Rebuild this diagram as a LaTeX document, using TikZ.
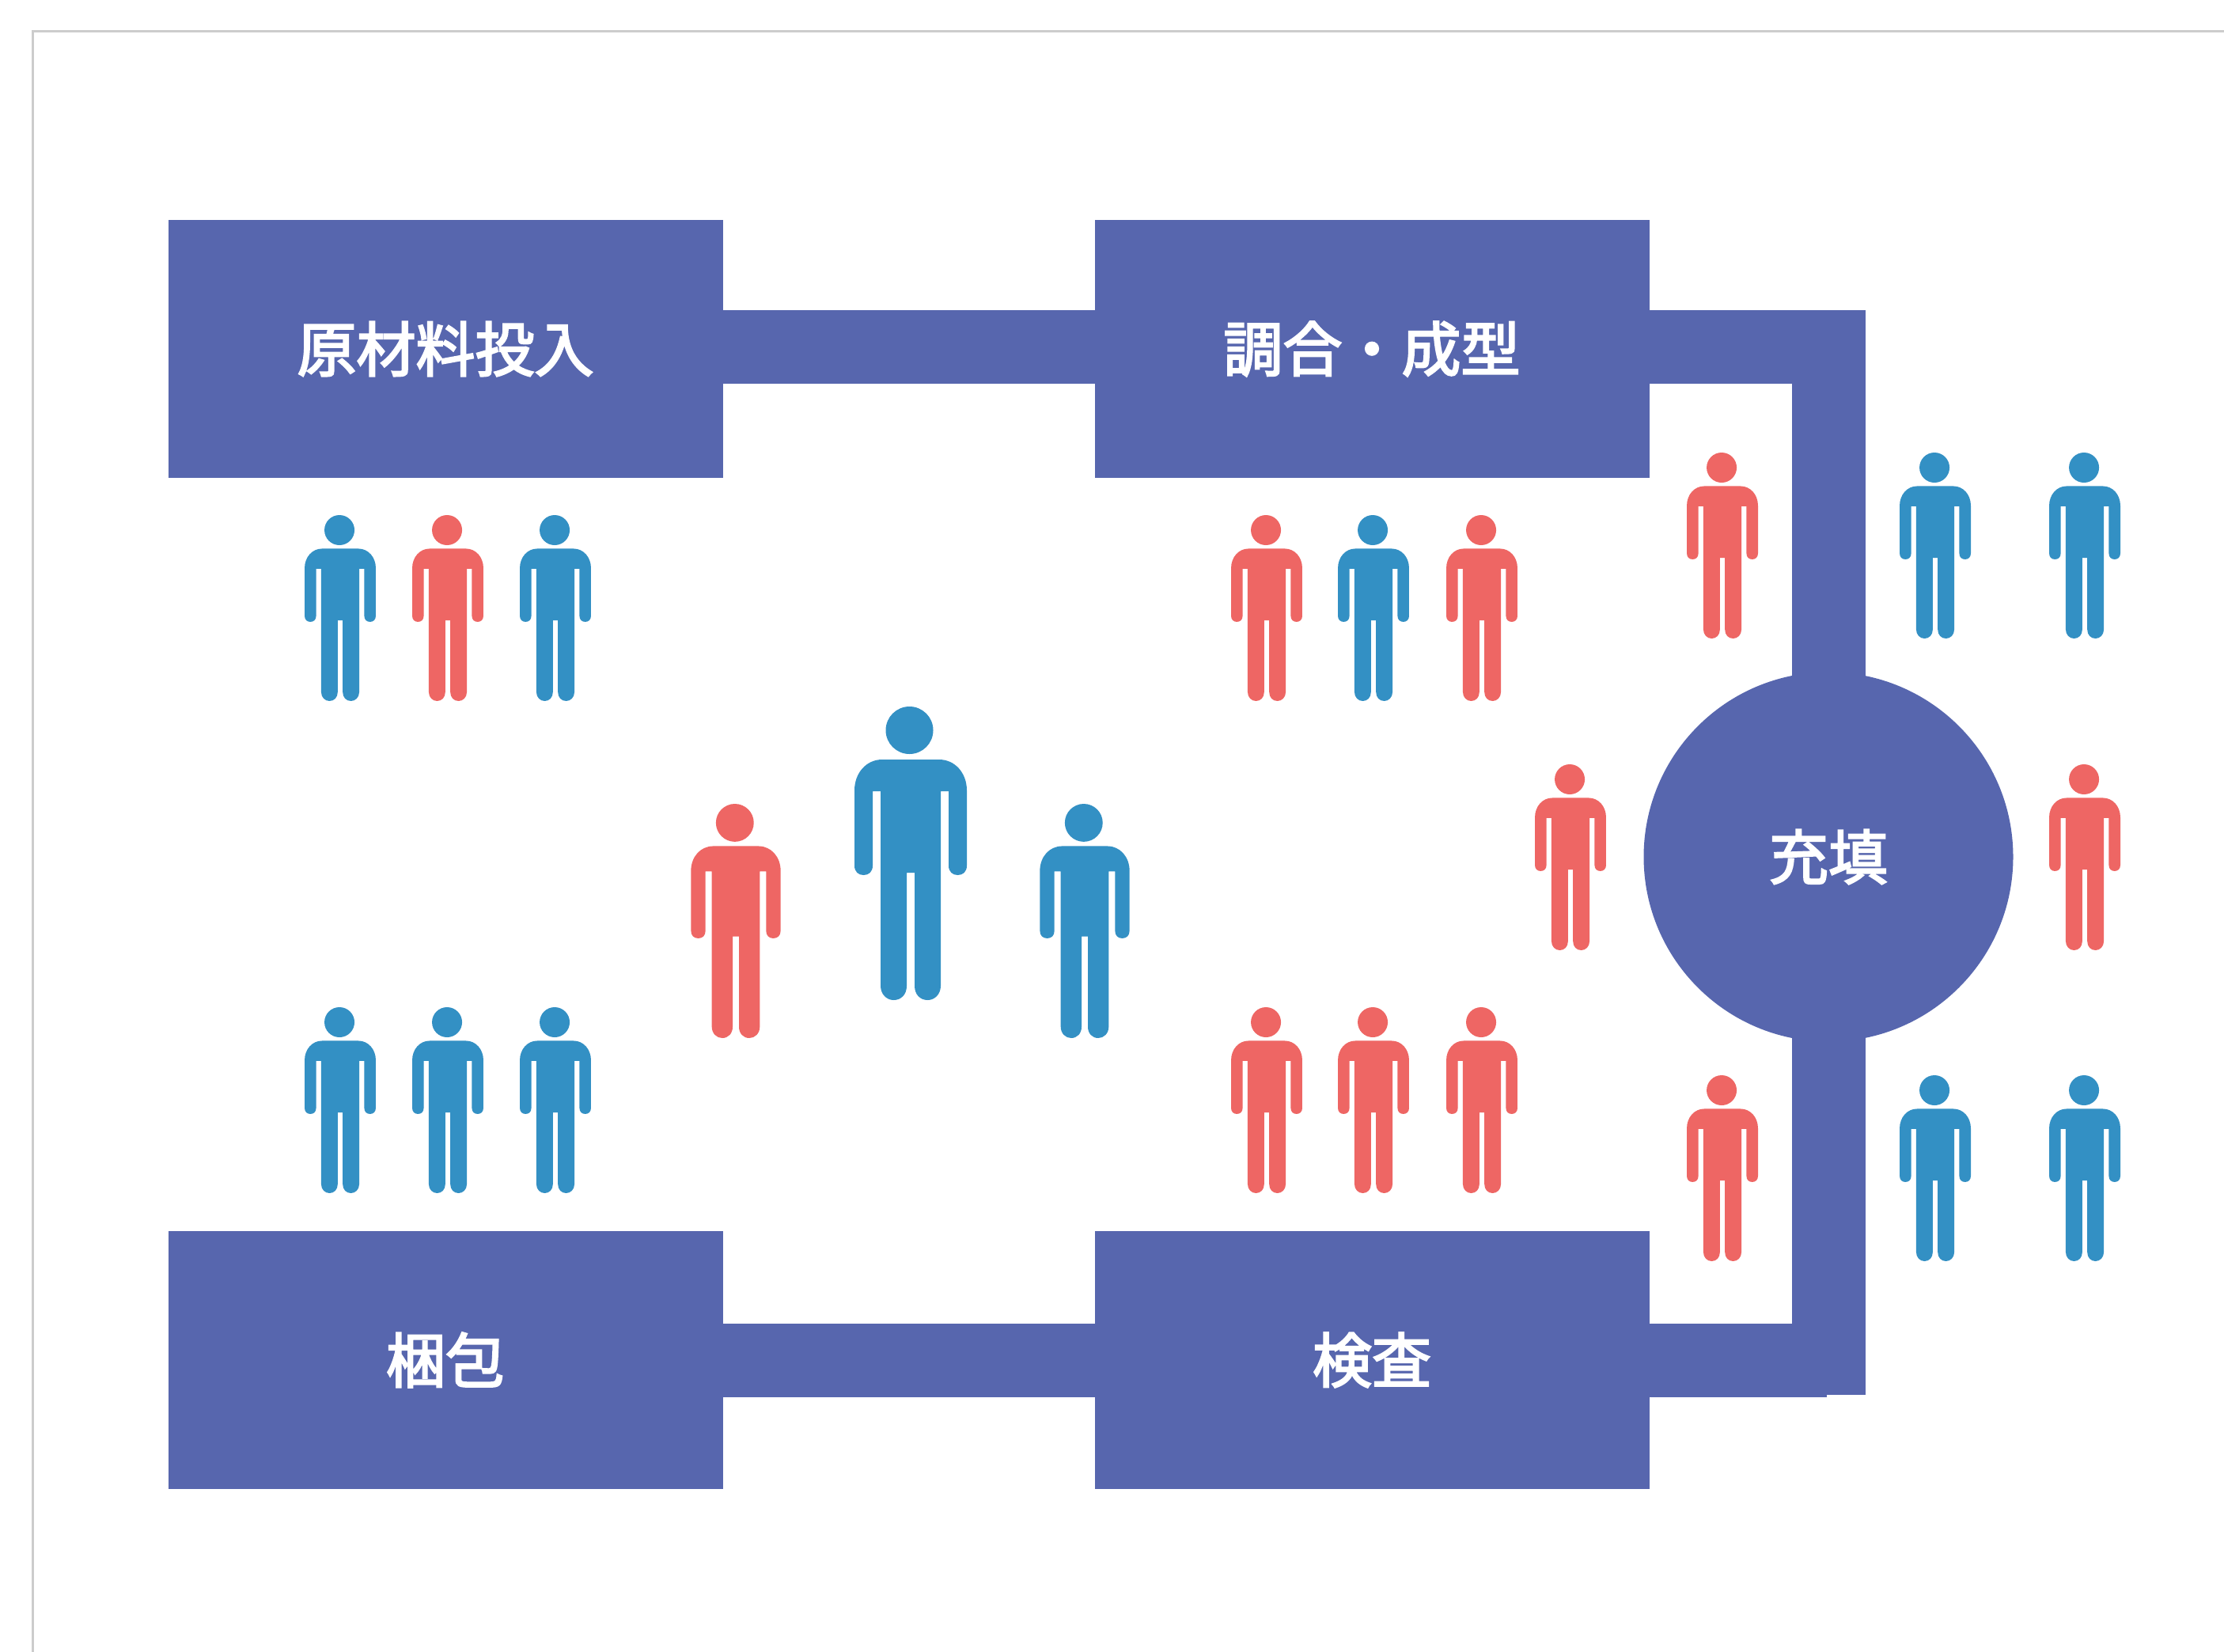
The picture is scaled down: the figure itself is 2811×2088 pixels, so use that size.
\documentclass[tikz,border=0pt]{standalone}
\usepackage{fontspec}
\setmainfont{Noto Sans CJK JP}[BoldFont={Noto Sans CJK JP},BoldFeatures={FakeBold=3}]
\definecolor{indigo}{HTML}{5766AE}
\definecolor{pblue}{HTML}{3390C4}
\definecolor{pred}{HTML}{EE6664}
\newcommand{\figperson}[4]{%
  \begin{scope}[shift={(#1,#2)},scale=#3/371]
    \fill[#4] (-1.5,30) circle[radius=30];
    \fill[#4] (-36,67) -- (36,67)
      .. controls (56,67) and (71,84) .. (71,106) -- (71,201)
      .. controls (71,209) and (66,213) .. (59.5,213)
      .. controls (53,213) and (48,209) .. (48,201)
      -- (48,107) -- (38,107) -- (38,353)
      .. controls (38,364) and (30,371) .. (21.5,371)
      .. controls (12,371) and (5,364) .. (5,353)
      -- (5,210) -- (-5,210) -- (-5,353)
      .. controls (-5,364) and (-12,371) .. (-21.5,371)
      .. controls (-30,371) and (-38,364) .. (-38,353)
      -- (-38,107) -- (-48,107) -- (-48,201)
      .. controls (-48,209) and (-53,213) .. (-59.5,213)
      .. controls (-66,213) and (-71,209) .. (-71,201)
      -- (-71,106)
      .. controls (-71,84) and (-56,67) .. (-36,67) -- cycle;
  \end{scope}}
\tikzset{
  stagebox/.style={fill=indigo,draw=none,minimum width=701pt,minimum height=326pt,inner sep=0pt,
    text=white,font=\fontsize{75}{75}\selectfont\bfseries},
  stagecircle/.style={circle,fill=indigo,draw=none,minimum size=467pt,inner sep=0pt,
    text=white,font=\fontsize{75}{75}\selectfont\bfseries},
  bar/.style={draw=indigo,line width=93pt},
  frameline/.style={draw=black!20,line width=3pt}
}
\begin{document}
\begin{tikzpicture}[x=1pt,y=-1pt]
  \useasboundingbox (0,0) rectangle (2811,2088);
  \fill[white] (0,0) rectangle (2811,2088);
  \draw[frameline] (41,2088) -- (41,39) -- (2811,39);
  \node[stagebox] (genryo) at (563,441) {原材料投入};
  \node[stagebox] (chogo) at (1734,441) {調合・成型};
  \node[stagebox] (konpo) at (563,1719) {梱包};
  \node[stagebox] (kensa) at (1734,1719) {検査};
  \node[stagecircle] (juten) at (2311,1083) {充填};
  % connectors end just inside the edges of the shapes, away from the labels
  \draw[bar,shorten <=-4pt,shorten >=-4pt] ([yshift=3pt]genryo.east) -- ([yshift=3pt]chogo.west);
  \draw[bar,shorten <=-4pt,shorten >=-4pt] (konpo.east) -- (kensa.west);
  \draw[bar,shorten <=-4pt,shorten >=-6pt] ([yshift=3pt]chogo.east) -| (juten.north);
  \draw[bar,shorten <=-6pt] (juten.south) -- ++(0,446);
  \draw[bar,shorten <=-4pt] (kensa.east) -- ++(224,0);
  % top left group
  \figperson{430}{651}{235}{pblue}
  \figperson{566}{651}{235}{pred}
  \figperson{702}{651}{235}{pblue}
  % top middle group
  \figperson{1601}{651}{235}{pred}
  \figperson{1736}{651}{235}{pblue}
  \figperson{1873}{651}{235}{pred}
  % bottom left group
  \figperson{430}{1273}{235}{pblue}
  \figperson{566}{1273}{235}{pblue}
  \figperson{702}{1273}{235}{pblue}
  % bottom middle group
  \figperson{1601}{1273}{235}{pred}
  \figperson{1736}{1273}{235}{pred}
  \figperson{1873}{1273}{235}{pred}
  % centre group
  \figperson{1151}{893}{371}{pblue}
  \figperson{930}{1016}{296}{pred}
  \figperson{1371}{1016}{296}{pblue}
  % around the circle
  \figperson{2177}{572}{235}{pred}
  \figperson{2446}{572}{235}{pblue}
  \figperson{2635}{572}{235}{pblue}
  \figperson{1985}{966}{235}{pred}
  \figperson{2635}{966}{235}{pred}
  \figperson{2177}{1359}{235}{pred}
  \figperson{2446}{1359}{235}{pblue}
  \figperson{2635}{1359}{235}{pblue}
\end{tikzpicture}
\end{document}
